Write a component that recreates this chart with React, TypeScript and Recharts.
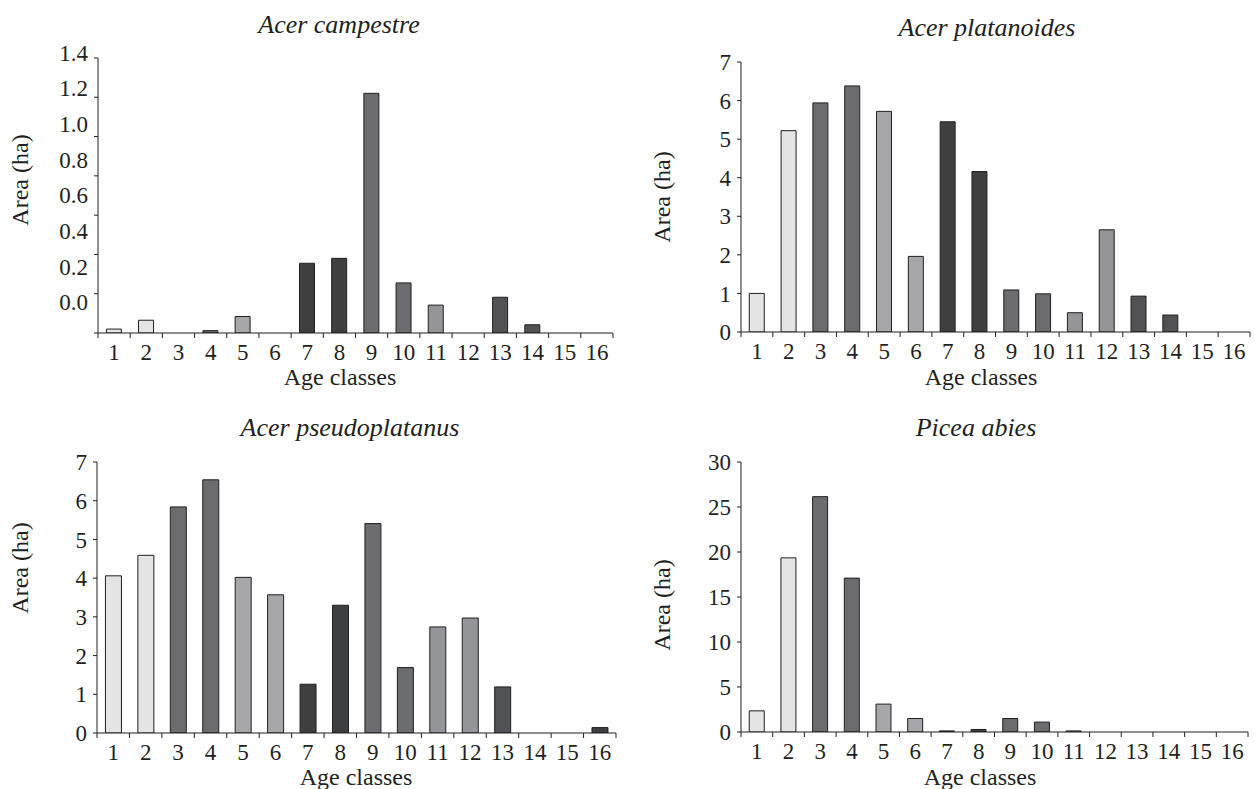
import React from 'react';
import { BarChart, Bar, XAxis, YAxis, Cell } from 'recharts';

const AGE_CLASSES = ['1', '2', '3', '4', '5', '6', '7', '8', '9', '10', '11', '12', '13', '14', '15', '16'];
const CLASS_COLORS = [
  '#e3e4e6', '#e3e4e6', '#6b6c70', '#6b6c70', '#a6a7aa', '#a6a7aa', '#3e3f41', '#3e3f41',
  '#6b6c70', '#6b6c70', '#949598', '#949598', '#515255', '#515255', '#3e3f41', '#3e3f41',
];

const CAMPESTRE = [0.02, 0.065, 0, 0.012, 0.084, 0, 0.355, 0.38, 1.22, 0.255, 0.142, 0, 0.182, 0.042, 0, 0];
const PLATANOIDES = [1.0, 5.22, 5.94, 6.38, 5.72, 1.96, 5.45, 4.16, 1.09, 0.99, 0.5, 2.65, 0.93, 0.44, 0, 0];
const PSEUDOPLATANUS = [4.06, 4.59, 5.84, 6.54, 4.02, 3.57, 1.26, 3.3, 5.41, 1.69, 2.74, 2.97, 1.19, 0, 0, 0.14];
const PICEA = [2.35, 19.35, 26.15, 17.1, 3.1, 1.5, 0.12, 0.28, 1.5, 1.1, 0.12, 0, 0, 0, 0, 0];

const CAMPESTRE_TICKS = [0, 0.2, 0.4, 0.6, 0.8, 1.0, 1.2, 1.4];
const SEVEN_TICKS = [0, 1, 2, 3, 4, 5, 6, 7];
const PICEA_TICKS = [0, 5, 10, 15, 20, 25, 30];

const TITLES = ['Acer campestre', 'Acer platanoides', 'Acer pseudoplatanus', 'Picea abies'];
const Y_LABEL = 'Area (ha)';
const X_LABEL = 'Age classes';

const INK = '#231f20';
const FONT = 'Liberation Serif, DejaVu Serif, serif';
const TICK_FONT = 23;
const X_TICK_MARGIN = 11;
const X_TICK_LEN = 5;

const CampestreTick = (props: any) => {
  const { x, y, payload } = props;
  const i = Math.round((1.4 - payload.value) / 0.2);
  return (
    <text x={x} y={y - 5 - 3.6 * i} textAnchor="end" dominantBaseline="central"
      fill={INK} fontSize={TICK_FONT} fontFamily={FONT}>
      {Number(payload.value).toFixed(1)}
    </text>
  );
};

// Category label at the band centre, with tick marks at the band boundaries.
const CategoryTick = (props: any) => {
  const { x, y, payload, index, visibleTicksCount } = props;
  const half = payload.offset || 0;
  const axisY = y - X_TICK_MARGIN;
  const isLast = index === visibleTicksCount - 1;
  return (
    <g>
      <line x1={x - half} x2={x - half} y1={axisY} y2={axisY + X_TICK_LEN} stroke={INK} strokeWidth={1} />
      {isLast && (
        <line x1={x + half} x2={x + half} y1={axisY} y2={axisY + X_TICK_LEN} stroke={INK} strokeWidth={1} />
      )}
      <text x={x} y={y} dy="0.71em" textAnchor="middle" fill={INK} fontSize={TICK_FONT} fontFamily={FONT}>
        {payload.value}
      </text>
    </g>
  );
};

type PanelCfg = {
  values: number[];
  ticks: number[];
  domain: [number, number];
  left: number; top: number; width: number; height: number;
  margin: { top: number; right: number; bottom: number; left: number };
  customTick?: boolean;
};

const PANELS: PanelCfg[] = [
  { values: CAMPESTRE, ticks: CAMPESTRE_TICKS, domain: [0, 1.4], left: 0, top: 0, width: 627, height: 395,
    margin: { top: 58, right: 14, bottom: 12, left: 38 }, customTick: true },
  { values: PLATANOIDES, ticks: SEVEN_TICKS, domain: [0, 7], left: 627, top: 0, width: 628, height: 395,
    margin: { top: 62, right: 5, bottom: 13, left: 54 } },
  { values: PSEUDOPLATANUS, ticks: SEVEN_TICKS, domain: [0, 7], left: 0, top: 395, width: 627, height: 394,
    margin: { top: 67, right: 11, bottom: 6, left: 37 } },
  { values: PICEA, ticks: PICEA_TICKS, domain: [0, 30], left: 627, top: 395, width: 628, height: 394,
    margin: { top: 67, right: 7, bottom: 7, left: 54 } },
];

const TITLE_POS = [[339, 24], [987, 27], [350, 427], [976, 427]];
const YLABEL_POS = [[20, 180], [662, 197], [20, 568], [662, 605]];
const XLABEL_POS = [[340, 377], [981, 377], [356, 777], [980, 777]];

const Panel = ({ cfg }: { cfg: PanelCfg }) => {
  const data = AGE_CLASSES.map((c, i) => ({ age: c, area: cfg.values[i] }));
  return (
    <div style={{ position: 'absolute', left: cfg.left, top: cfg.top }}>
      <BarChart width={cfg.width} height={cfg.height} data={data} margin={cfg.margin} barCategoryGap="26%">
        <XAxis dataKey="age" height={50} tickLine={false} tickSize={0} tickMargin={X_TICK_MARGIN}
          interval={0} axisLine={{ stroke: INK, strokeWidth: 1 }} tick={<CategoryTick />} />
        <YAxis width={60} domain={cfg.domain} ticks={cfg.ticks} allowDataOverflow interval={0}
          tickSize={4} tickMargin={6}
          axisLine={{ stroke: INK, strokeWidth: 1 }} tickLine={{ stroke: INK, strokeWidth: 1 }}
          tick={cfg.customTick ? <CampestreTick /> : { fill: INK, fontSize: TICK_FONT, fontFamily: FONT }} />
        <Bar dataKey="area" stroke={INK} strokeWidth={1} isAnimationActive={false}>
          {data.map((d, i) => <Cell key={d.age} fill={CLASS_COLORS[i]} />)}
        </Bar>
      </BarChart>
    </div>
  );
};

export default function App() {
  return (
    <div style={{ position: 'absolute', left: 0, top: 0, width: 1255, height: 789, background: '#fff' }}>
      {PANELS.map((p, i) => <Panel key={i} cfg={p} />)}
      <svg width={1255} height={789} style={{ position: 'absolute', left: 0, top: 0, pointerEvents: 'none' }}>
        {TITLES.map((t, i) => (
          <text key={'t' + i} x={TITLE_POS[i][0]} y={TITLE_POS[i][1]} textAnchor="middle" dominantBaseline="central"
            fontStyle="italic" fontSize={26} fontFamily={FONT} fill={INK}>{t}</text>
        ))}
        {YLABEL_POS.map((p, i) => (
          <text key={'y' + i} x={p[0]} y={p[1]} textAnchor="middle" dominantBaseline="central"
            transform={`rotate(-90, ${p[0]}, ${p[1]})`} fontSize={24} fontFamily={FONT} fill={INK}>{Y_LABEL}</text>
        ))}
        {XLABEL_POS.map((p, i) => (
          <text key={'x' + i} x={p[0]} y={p[1]} textAnchor="middle" dominantBaseline="central"
            fontSize={24} fontFamily={FONT} fill={INK}>{X_LABEL}</text>
        ))}
      </svg>
    </div>
  );
}
